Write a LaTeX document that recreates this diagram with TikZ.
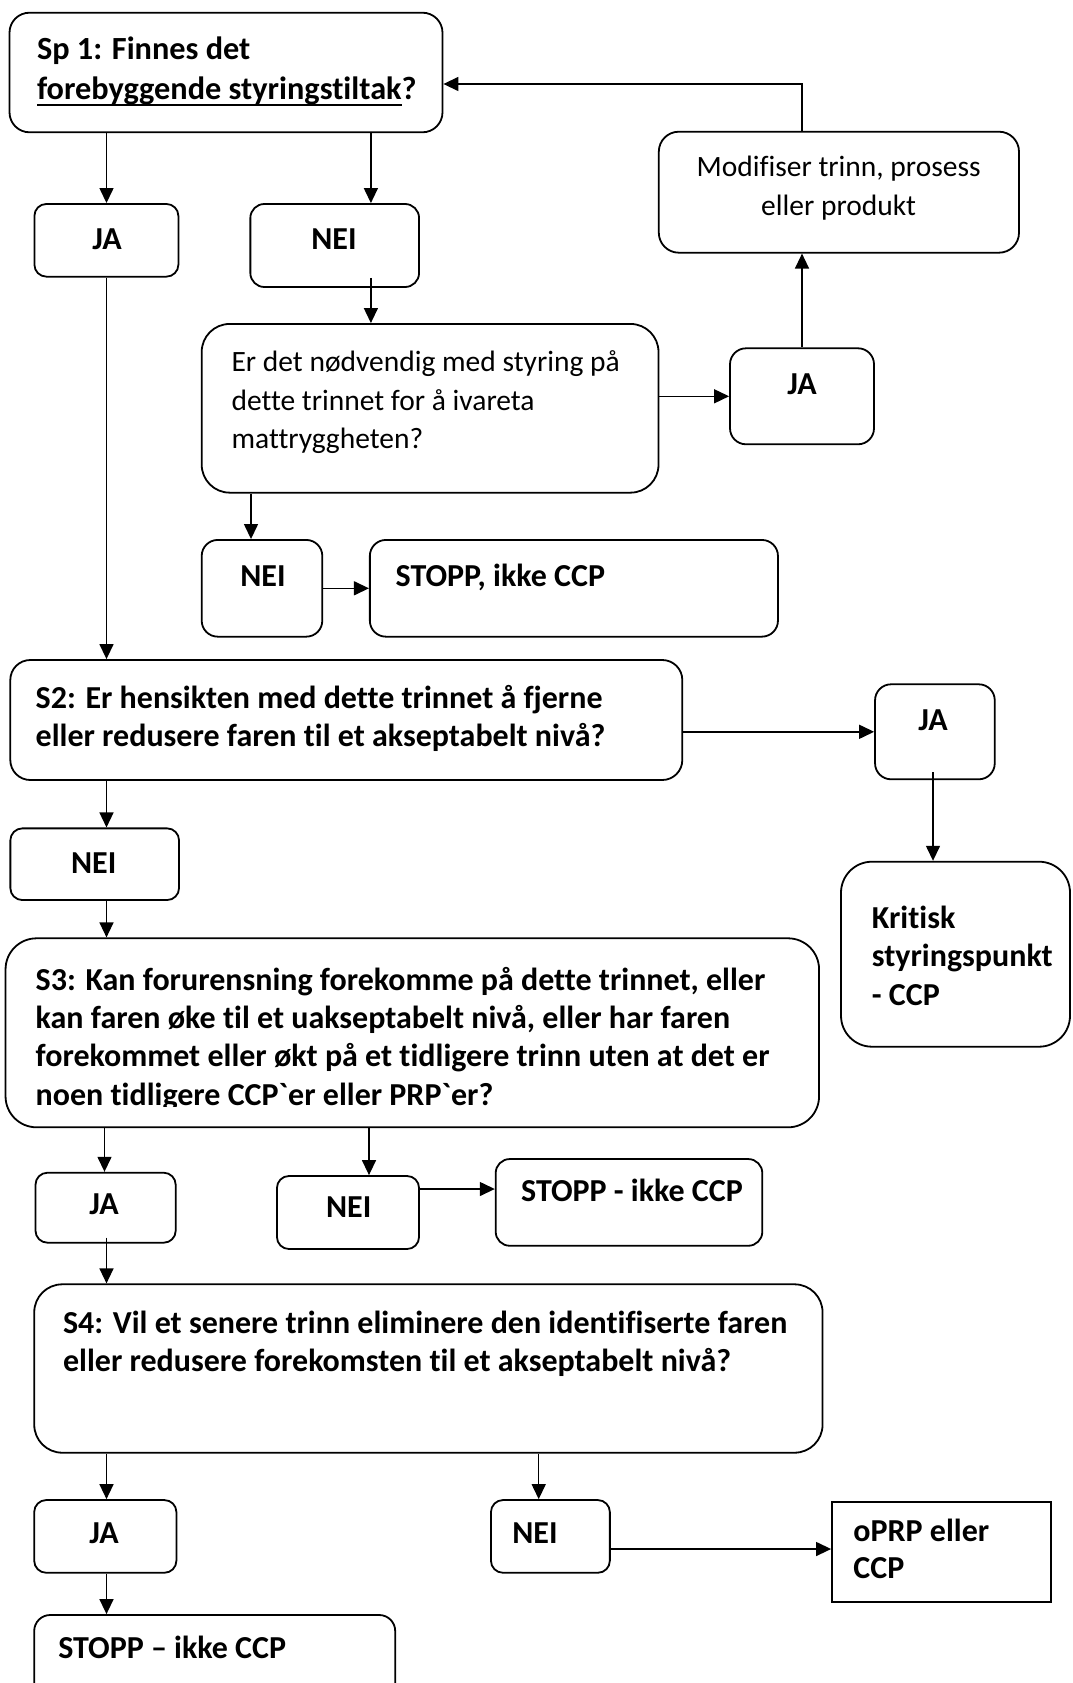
\documentclass[tikz,border=0pt]{standalone}
\usepackage{fontspec}
\newfontfamily\calfont{Carlito}[Ligatures=CommonOff]
\usetikzlibrary{arrows.meta,calc}
\newcommand{\ulx}[1]{\setbox0=\hbox{#1}\rlap{\rule[-6.5pt]{\wd0}{2pt}}\box0}
\tikzset{
 box/.style={draw, line width=1.8pt, rounded corners=#1, inner sep=0pt},
 box/.default=12pt,
 sqbox/.style={draw, line width=1.8pt, inner sep=0pt},
 arr/.style={line width=1.4pt, -{Triangle[length=15pt,width=14pt]}},
 bt/.style={inner sep=0pt, align=left, font=\calfont\bfseries\fontsize{32}{38.4}\selectfont},
 bt1/.style={inner sep=0pt, align=left, font=\calfont\bfseries\fontsize{32.3}{40.7}\selectfont},
 rt/.style={inner sep=0pt, align=left, font=\calfont\fontsize{29.5}{38.4}\selectfont},
 rtc/.style={inner sep=0pt, align=center, font=\calfont\fontsize{29.5}{38.4}\selectfont},
}
\begin{document}
\begin{tikzpicture}[x=1pt,y=-1pt]
\path[fill=white, use as bounding box] (0,0) rectangle (1072,1683);
% boxes
\node[box=20pt, minimum width=433pt, minimum height=119.6pt] (sp1) at (226,72.5) {};
\node[box=12pt, minimum width=144pt, minimum height=72.7pt] (ja1) at (106.4,240.3) {};
\node[box=14pt, minimum width=168.7pt, minimum height=83pt] (nei1) at (334.7,245.5) {};
\node[box=20pt, minimum width=360.2pt, minimum height=121pt] (mod) at (838.9,192.2) {};
\node[box=16pt, minimum width=144pt, minimum height=96pt] (ja2) at (802,396.3) {};
\node[box=28pt, minimum width=456.8pt, minimum height=168.7pt] (q) at (430.1,408.3) {};
\node[box=16pt, minimum width=120.6pt, minimum height=96.7pt] (nei2) at (262,588.3) {};
\node[box=16pt, minimum width=408.1pt, minimum height=96.7pt] (stop1) at (573.9,588.3) {};
\node[box=20pt, minimum width=672pt, minimum height=120pt] (s2) at (346.3,720) {};
\node[box=16pt, minimum width=119.7pt, minimum height=95pt] (ja3) at (934.9,731.8) {};
\node[box=31pt, minimum width=229pt, minimum height=185pt] (krit) at (955.5,954.2) {};
\node[box=12pt, minimum width=168.7pt, minimum height=71.7pt] (nei3) at (94.7,864.2) {};
\node[box=31pt, minimum width=813.5pt, minimum height=189pt] (s3) at (412.3,1032.8) {};
\node[box=12pt, minimum width=140.2pt, minimum height=70pt] (ja4) at (105.6,1207.7) {};
\node[box=12pt, minimum width=142.1pt, minimum height=73pt] (nei4) at (348,1212.5) {};
\node[box=14pt, minimum width=266.6pt, minimum height=86.7pt] (stop2) at (629,1202.4) {};
\node[box=28pt, minimum width=788.3pt, minimum height=168.4pt] (s4) at (428.4,1368.5) {};
\node[box=12pt, minimum width=142.2pt, minimum height=72.7pt] (ja5) at (105.3,1536.4) {};
\node[box=12pt, minimum width=118.9pt, minimum height=72.7pt] (nei5) at (550.4,1536.4) {};
\node[sqbox, minimum width=218.8pt, minimum height=99.4pt] (oprp) at (941.4,1552) {};
\node[box=16pt, minimum width=361pt, minimum height=100pt] (stop3) at (214.7,1665) {};
% texts (anchor at the baseline of the last line)
\node[bt1, anchor=base west] (sp1t) at (36.8,100) {Sp 1: Finnes det\\\ulx{forebyggende styringstiltak}?};
\node[bt, anchor=base] (ja1t) at (107,249.3) {JA};
\node[bt, anchor=base] (nei1t) at (334,249.3) {NEI};
\node[rtc, anchor=base] (modt) at (838.6,215) {Modifiser trinn, prosess\\eller produkt};
\node[bt, anchor=base] (ja2t) at (802,394.3) {JA};
\node[rt, anchor=base west] (qt) at (231.4,448.5) {Er det nødvendig med styring på\\dette trinnet for å ivareta\\mattryggheten?};
\node[bt, anchor=base] (nei2t) at (263,586) {NEI};
\node[bt, anchor=base west] (stop1t) at (395.5,586) {STOPP, ikke CCP};
\node[bt, anchor=base west] (s2t) at (35.5,746.7) {S2: Er hensikten med dette trinnet å fjerne\\eller redusere faren til et akseptabelt nivå?};
\node[bt, anchor=base] (ja3t) at (933,730.7) {JA};
\node[bt, anchor=base west] (kritt) at (871.7,1005.1) {Kritisk\\styringspunkt\\- CCP};
\node[bt, anchor=base] (nei3t) at (93.7,873.3) {NEI};
\begin{scope}
\clip (0,930) rectangle (830,1106);
\node[bt, anchor=base west] (s3t) at (35.5,1105.2) {S3: Kan forurensning forekomme på dette trinnet, eller\\kan faren øke til et uakseptabelt nivå, eller har faren\\forekommet eller økt på et tidligere trinn uten at det er\\noen tidligere CCP`er eller PRP`er?};
\end{scope}
\node[bt, anchor=base] (ja4t) at (104,1214.3) {JA};
\node[bt, anchor=base] (nei4t) at (348.7,1217.7) {NEI};
\node[bt, anchor=base west] (stop2t) at (521,1201.7) {STOPP - ikke CCP};
\node[bt, anchor=base west] (s4t) at (62.9,1371.7) {S4: Vil et senere trinn eliminere den identifiserte faren\\eller redusere forekomsten til et akseptabelt nivå?};
\node[bt, anchor=base] (ja5t) at (104,1543.3) {JA};
\node[bt, anchor=base] (nei5t) at (535,1543.3) {NEI};
\node[bt, anchor=base west, font=\calfont\bfseries\fontsize{32}{36.6}\selectfont] (oprpt) at (853.2,1578.3) {oPRP eller\\CCP};
\node[bt, anchor=base west] (stop3t) at (58.1,1658.3) {STOPP – ikke CCP};
% columns
\coordinate (cA) at (106.5,0);
\coordinate (cB) at (370.9,0);
\coordinate (cC) at (802,0);
\coordinate (cD) at (251,0);
\coordinate (cE) at (933,0);
\coordinate (cF) at (369,0);
\coordinate (cG) at (538.7,0);
\coordinate (cH) at (104.5,0);
\coordinate (fb) at (0,84);
\coordinate (yA) at (0,1189);
\coordinate (yB) at (0,1549);
% arrows
\draw[arr] (sp1.south -| cA) -- (ja1.north -| cA);
\draw[arr] (sp1.south -| cB) -- (nei1.north -| cB);
\draw[arr] ($(cB |- nei1.south)+(0,-10)$) -- (q.north -| cB);
\draw[arr] (ja2.north -| cC) -- (mod.south -| cC);
\draw[arr] (mod.north -| cC) -- (cC |- fb) -- (sp1.east |- fb);
\draw[arr] (q.east |- ja2.west) -- (ja2.west);
\draw[arr] (q.south -| cD) -- (nei2.north -| cD);
\draw[arr] (nei2.east) -- (stop1.west);
\draw[arr] (cA |- ja1.south) -- (s2.north -| cA);
\draw[arr] (s2.east |- ja3.west) -- (ja3.west);
\draw[arr] ($(cE |- ja3.south)+(0,-8)$) -- (krit.north -| cE);
\draw[arr] (s2.south -| cA) -- (nei3.north -| cA);
\draw[arr] (nei3.south -| cA) -- (s3.north -| cA);
\draw[arr] (s3.south -| cH) -- (ja4.north -| cH);
\draw[arr] (s3.south -| cF) -- (nei4.north -| cF);
\draw[arr] (nei4.east |- yA) -- (stop2.west |- yA);
\draw[arr] ($(cA |- ja4.south)+(0,-6)$) -- (s4.north -| cA);
\draw[arr] (s4.south -| cA) -- (ja5.north -| cA);
\draw[arr] (s4.south -| cG) -- (nei5.north -| cG);
\draw[arr] (nei5.east |- yB) -- (oprp.west |- yB);
\draw[arr] (ja5.south -| cA) -- (stop3.north -| cA);
\end{tikzpicture}
\end{document}
